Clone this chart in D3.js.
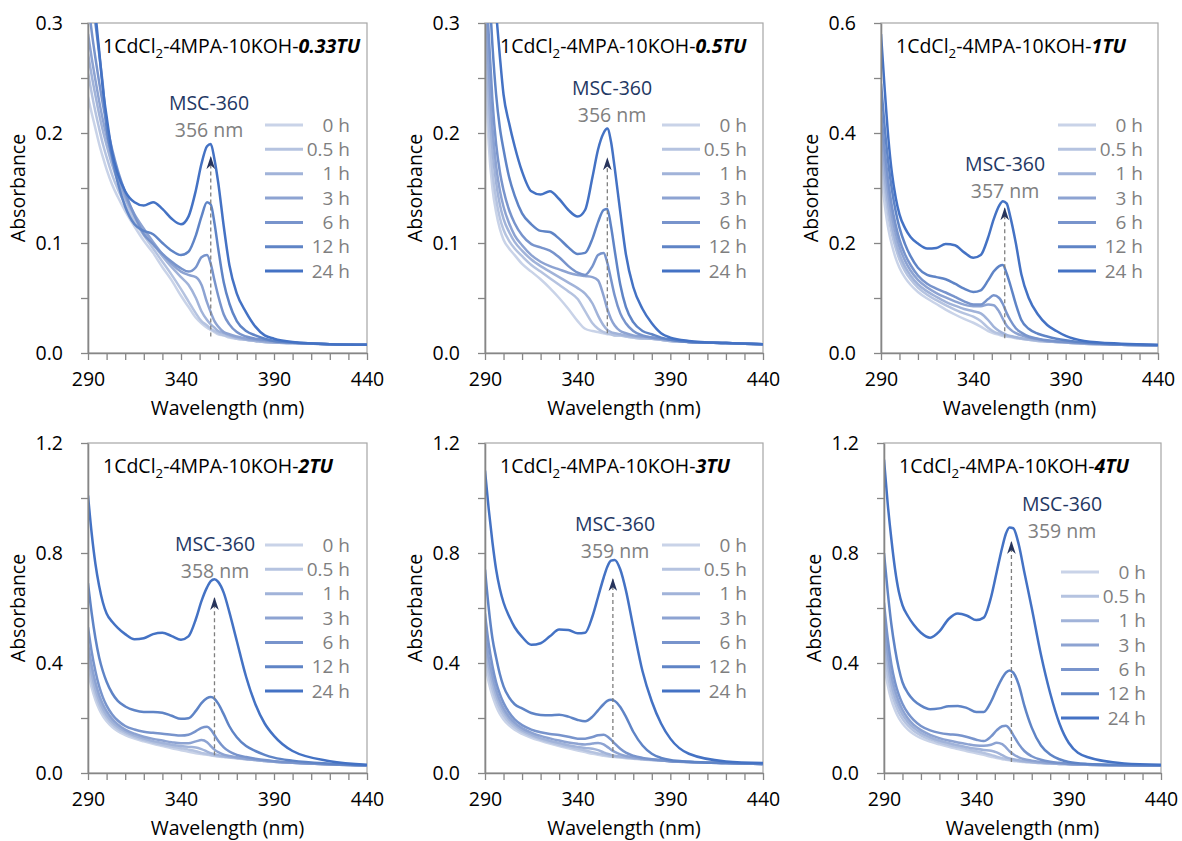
<!DOCTYPE html>
<html>
<head>
<meta charset="utf-8">
<script src="https://cdn.jsdelivr.net/npm/d3@7"></script>
<style>
  html, body { margin: 0; padding: 0; background: #fff; }
  svg { display: block; font-family: "Open Sans", "Noto Sans", sans-serif; }
</style>
</head>
<body>
<svg id="chart" width="1182" height="841"></svg>
<script>
// ---------------- DATA ----------------
const wavelengths = [290,292,294,296,298,300,303,306,310,315,320,325,330,335,340,344,348,351,354,356,358,360,363,366,370,375,380,385,390,400,420,440];
const seriesLabels = ['0 h','0.5 h','1 h','3 h','6 h','12 h','24 h'];
const seriesColors = ['#c9d3e8','#b5c3e0','#a1b3d9','#8da3d2','#7894cc','#5f84c6','#4472c4'];

const panelPrefix = '1CdCl';
const panelMid = '-4MPA-10KOH-';
const panelTU = ['0.33TU','0.5TU','1TU','2TU','3TU','4TU'];
const peakNm = [356,356,357,358,359,359];
const yMax = [0.3,0.3,0.6,1.2,1.2,1.2];
const yTickStep = [0.05,0.05,0.1,0.2,0.2,0.2];
const yLabelStep = [0.1,0.1,0.2,0.4,0.4,0.4];
const arrowFrom = [0.015,0.018,0.027,0.065,0.055,0.04];
const arrowTo = [0.178,0.177,0.263,0.636,0.705,0.84];
const xTicks = [290,300,310,320,330,340,350,360,370,380,390,400,410,420,430,440];
const xLabels = [290,340,390,440];

const abs_033TU = [
  [0.233,0.218,0.204,0.19,0.178,0.167,0.153,0.142,0.129,0.115,0.102,0.091,0.078,0.066,0.052,0.042,0.032,0.027,0.023,0.021,0.019,0.017,0.016,0.014,0.013,0.012,0.011,0.010,0.0095,0.009,0.008,0.0075],
  [0.255,0.236,0.219,0.204,0.19,0.178,0.162,0.149,0.135,0.12,0.107,0.095,0.083,0.071,0.058,0.047,0.036,0.029,0.025,0.022,0.020,0.018,0.016,0.015,0.013,0.012,0.011,0.010,0.0095,0.009,0.008,0.0075],
  [0.272,0.252,0.234,0.217,0.202,0.189,0.171,0.156,0.14,0.124,0.111,0.099,0.088,0.078,0.069,0.062,0.05,0.038,0.03,0.026,0.023,0.02,0.018,0.016,0.014,0.012,0.011,0.010,0.0095,0.009,0.008,0.0075],
  [0.29,0.268,0.248,0.229,0.212,0.197,0.177,0.161,0.143,0.126,0.113,0.101,0.09,0.081,0.074,0.071,0.069,0.062,0.046,0.037,0.029,0.024,0.019,0.017,0.015,0.013,0.012,0.011,0.010,0.009,0.008,0.0075],
  [0.32,0.292,0.268,0.246,0.226,0.208,0.185,0.166,0.146,0.125,0.108,0.099,0.09,0.083,0.077,0.074,0.078,0.087,0.089,0.081,0.066,0.052,0.035,0.026,0.019,0.015,0.013,0.012,0.011,0.0095,0.008,0.0075],
  [0.36,0.33,0.3,0.272,0.243,0.205,0.178,0.155,0.133,0.117,0.111,0.108,0.1,0.093,0.089,0.092,0.107,0.124,0.137,0.135,0.118,0.095,0.064,0.045,0.029,0.02,0.016,0.013,0.011,0.0095,0.008,0.0075],
  [0.4,0.36,0.31,0.275,0.24,0.215,0.182,0.163,0.147,0.137,0.134,0.137,0.131,0.122,0.117,0.124,0.148,0.172,0.188,0.19,0.176,0.155,0.115,0.08,0.054,0.037,0.024,0.016,0.013,0.01,0.008,0.0075]
];
const abs_05TU = [
  [0.27,0.19,0.15,0.128,0.113,0.103,0.095,0.089,0.081,0.074,0.067,0.059,0.05,0.04,0.029,0.022,0.02,0.019,0.018,0.017,0.017,0.016,0.016,0.015,0.014,0.013,0.013,0.012,0.011,0.01,0.009,0.008],
  [0.29,0.21,0.165,0.14,0.123,0.112,0.102,0.095,0.088,0.08,0.074,0.068,0.062,0.056,0.049,0.038,0.027,0.022,0.019,0.018,0.017,0.016,0.016,0.015,0.014,0.013,0.013,0.012,0.011,0.01,0.009,0.008],
  [0.31,0.235,0.185,0.155,0.135,0.122,0.11,0.101,0.093,0.085,0.079,0.074,0.069,0.064,0.059,0.054,0.045,0.034,0.025,0.021,0.019,0.018,0.017,0.016,0.015,0.014,0.013,0.012,0.011,0.01,0.009,0.008],
  [0.33,0.26,0.205,0.17,0.148,0.133,0.118,0.107,0.098,0.089,0.083,0.079,0.076,0.073,0.071,0.07,0.069,0.066,0.052,0.04,0.031,0.025,0.02,0.018,0.016,0.015,0.014,0.013,0.012,0.01,0.009,0.008],
  [0.36,0.29,0.23,0.19,0.165,0.148,0.13,0.118,0.107,0.099,0.096,0.093,0.087,0.079,0.073,0.071,0.079,0.089,0.091,0.082,0.067,0.052,0.036,0.027,0.02,0.016,0.014,0.013,0.012,0.01,0.009,0.008],
  [0.4,0.34,0.28,0.235,0.205,0.185,0.16,0.143,0.127,0.117,0.111,0.11,0.104,0.096,0.09,0.091,0.104,0.119,0.13,0.131,0.115,0.093,0.062,0.042,0.028,0.02,0.017,0.014,0.012,0.01,0.009,0.008],
  [0.45,0.4,0.35,0.31,0.27,0.235,0.209,0.188,0.165,0.147,0.144,0.147,0.14,0.13,0.124,0.13,0.16,0.185,0.2,0.204,0.192,0.168,0.128,0.09,0.06,0.04,0.027,0.018,0.014,0.011,0.009,0.008]
];
const abs_1TU = [
  [0.33,0.27,0.225,0.195,0.172,0.155,0.137,0.124,0.111,0.099,0.089,0.079,0.07,0.062,0.055,0.048,0.04,0.036,0.033,0.031,0.03,0.029,0.027,0.026,0.024,0.022,0.021,0.02,0.019,0.017,0.015,0.014],
  [0.36,0.3,0.25,0.215,0.19,0.17,0.149,0.134,0.119,0.106,0.096,0.087,0.079,0.072,0.066,0.058,0.046,0.039,0.035,0.033,0.031,0.03,0.028,0.026,0.024,0.022,0.021,0.02,0.019,0.017,0.015,0.014],
  [0.38,0.32,0.268,0.23,0.202,0.18,0.157,0.141,0.125,0.112,0.102,0.093,0.086,0.08,0.076,0.072,0.06,0.048,0.04,0.036,0.033,0.031,0.029,0.027,0.025,0.023,0.021,0.02,0.019,0.017,0.015,0.014],
  [0.41,0.345,0.29,0.248,0.217,0.193,0.168,0.15,0.133,0.119,0.109,0.101,0.094,0.088,0.085,0.085,0.088,0.087,0.075,0.062,0.05,0.043,0.036,0.032,0.028,0.025,0.022,0.021,0.02,0.018,0.015,0.014],
  [0.44,0.37,0.31,0.265,0.232,0.206,0.179,0.16,0.141,0.126,0.117,0.11,0.102,0.094,0.088,0.088,0.098,0.105,0.1,0.089,0.073,0.06,0.045,0.037,0.03,0.026,0.023,0.021,0.02,0.018,0.015,0.014],
  [0.49,0.41,0.345,0.295,0.257,0.228,0.198,0.176,0.155,0.142,0.138,0.134,0.126,0.117,0.111,0.114,0.132,0.148,0.158,0.16,0.145,0.124,0.089,0.06,0.044,0.035,0.03,0.026,0.023,0.019,0.016,0.014],
  [0.58,0.48,0.39,0.325,0.282,0.252,0.227,0.211,0.199,0.19,0.191,0.198,0.196,0.183,0.173,0.178,0.21,0.243,0.268,0.276,0.272,0.248,0.2,0.143,0.1,0.07,0.051,0.04,0.031,0.022,0.017,0.015]
];
const abs_2TU = [
  [0.37,0.31,0.265,0.232,0.207,0.188,0.167,0.152,0.138,0.125,0.115,0.106,0.098,0.09,0.083,0.077,0.072,0.069,0.066,0.064,0.062,0.06,0.058,0.056,0.053,0.05,0.047,0.044,0.041,0.037,0.031,0.027],
  [0.40,0.335,0.285,0.248,0.22,0.2,0.177,0.16,0.145,0.131,0.12,0.111,0.103,0.096,0.09,0.085,0.079,0.073,0.069,0.066,0.064,0.062,0.059,0.057,0.054,0.05,0.047,0.044,0.041,0.037,0.031,0.027],
  [0.43,0.36,0.305,0.264,0.234,0.211,0.186,0.168,0.151,0.136,0.125,0.116,0.109,0.103,0.098,0.095,0.093,0.087,0.078,0.072,0.068,0.065,0.061,0.058,0.055,0.051,0.047,0.044,0.041,0.037,0.031,0.027],
  [0.47,0.39,0.33,0.284,0.25,0.225,0.197,0.177,0.158,0.143,0.132,0.124,0.118,0.112,0.108,0.108,0.115,0.12,0.112,0.098,0.085,0.076,0.067,0.062,0.057,0.052,0.048,0.045,0.042,0.037,0.031,0.027],
  [0.53,0.44,0.37,0.315,0.275,0.245,0.213,0.191,0.171,0.158,0.15,0.146,0.143,0.139,0.136,0.139,0.152,0.164,0.168,0.158,0.138,0.117,0.093,0.078,0.066,0.058,0.052,0.047,0.043,0.038,0.032,0.027],
  [0.69,0.58,0.49,0.42,0.37,0.332,0.29,0.262,0.242,0.228,0.222,0.222,0.219,0.208,0.197,0.199,0.226,0.254,0.272,0.276,0.27,0.252,0.213,0.17,0.13,0.098,0.08,0.066,0.056,0.045,0.034,0.028],
  [1.01,0.87,0.76,0.68,0.62,0.58,0.55,0.528,0.505,0.486,0.49,0.505,0.51,0.498,0.485,0.497,0.56,0.625,0.675,0.698,0.705,0.695,0.655,0.585,0.48,0.35,0.25,0.18,0.135,0.08,0.043,0.03]
];
const abs_3TU = [
  [0.40,0.33,0.28,0.243,0.215,0.195,0.173,0.157,0.142,0.128,0.117,0.107,0.098,0.09,0.082,0.076,0.07,0.066,0.063,0.061,0.059,0.058,0.056,0.054,0.052,0.049,0.047,0.045,0.043,0.04,0.036,0.033],
  [0.44,0.36,0.305,0.263,0.232,0.209,0.184,0.166,0.149,0.134,0.122,0.112,0.103,0.095,0.088,0.082,0.076,0.071,0.067,0.064,0.062,0.06,0.058,0.056,0.053,0.05,0.047,0.045,0.043,0.04,0.036,0.033],
  [0.48,0.39,0.33,0.283,0.249,0.223,0.195,0.175,0.156,0.14,0.127,0.117,0.109,0.101,0.095,0.091,0.088,0.083,0.075,0.07,0.066,0.063,0.06,0.057,0.054,0.051,0.048,0.045,0.043,0.04,0.036,0.033],
  [0.52,0.42,0.355,0.303,0.265,0.236,0.205,0.183,0.163,0.147,0.135,0.126,0.118,0.111,0.106,0.104,0.107,0.109,0.104,0.095,0.085,0.077,0.068,0.062,0.057,0.052,0.049,0.046,0.044,0.04,0.036,0.033],
  [0.58,0.47,0.39,0.33,0.288,0.255,0.22,0.195,0.174,0.158,0.148,0.142,0.138,0.132,0.125,0.125,0.131,0.137,0.139,0.133,0.121,0.107,0.088,0.074,0.063,0.055,0.05,0.046,0.043,0.04,0.036,0.033],
  [0.74,0.6,0.49,0.42,0.36,0.315,0.275,0.25,0.235,0.218,0.211,0.21,0.212,0.205,0.193,0.188,0.205,0.228,0.25,0.262,0.266,0.262,0.24,0.205,0.15,0.1,0.07,0.055,0.047,0.041,0.036,0.033],
  [1.10,0.96,0.84,0.74,0.67,0.62,0.57,0.53,0.495,0.466,0.472,0.497,0.522,0.52,0.508,0.51,0.57,0.64,0.71,0.75,0.772,0.775,0.74,0.665,0.53,0.37,0.26,0.18,0.125,0.07,0.042,0.036]
];
const abs_4TU = [
  [0.40,0.32,0.265,0.228,0.2,0.18,0.158,0.142,0.127,0.114,0.104,0.095,0.087,0.079,0.072,0.066,0.059,0.054,0.05,0.048,0.046,0.044,0.042,0.04,0.038,0.036,0.034,0.033,0.032,0.03,0.028,0.027],
  [0.45,0.36,0.295,0.252,0.22,0.197,0.172,0.154,0.137,0.122,0.111,0.102,0.094,0.086,0.079,0.073,0.066,0.059,0.054,0.051,0.048,0.046,0.044,0.041,0.039,0.036,0.034,0.033,0.032,0.03,0.028,0.027],
  [0.5,0.4,0.325,0.275,0.24,0.213,0.185,0.165,0.146,0.13,0.118,0.109,0.101,0.094,0.088,0.084,0.081,0.075,0.065,0.058,0.053,0.05,0.046,0.043,0.04,0.037,0.035,0.033,0.032,0.03,0.028,0.027],
  [0.55,0.44,0.355,0.3,0.26,0.23,0.198,0.176,0.156,0.139,0.127,0.118,0.111,0.105,0.1,0.099,0.103,0.11,0.105,0.093,0.079,0.068,0.057,0.05,0.045,0.04,0.037,0.035,0.033,0.031,0.028,0.027],
  [0.62,0.49,0.395,0.33,0.285,0.252,0.217,0.193,0.171,0.155,0.146,0.141,0.138,0.131,0.121,0.116,0.133,0.155,0.17,0.172,0.16,0.138,0.105,0.08,0.061,0.048,0.041,0.037,0.034,0.031,0.028,0.027],
  [0.8,0.66,0.54,0.45,0.38,0.33,0.29,0.265,0.245,0.232,0.235,0.243,0.244,0.236,0.222,0.222,0.26,0.305,0.345,0.365,0.373,0.365,0.32,0.245,0.165,0.1,0.067,0.05,0.04,0.033,0.029,0.027],
  [1.14,0.98,0.85,0.74,0.66,0.61,0.57,0.54,0.51,0.492,0.515,0.56,0.58,0.572,0.556,0.565,0.64,0.73,0.82,0.87,0.893,0.89,0.83,0.73,0.6,0.43,0.29,0.18,0.11,0.058,0.035,0.03]
];
const panelData = [abs_033TU, abs_05TU, abs_1TU, abs_2TU, abs_3TU, abs_4TU];

// ---------------- LAYOUT ----------------
const plotLeft = [88,485,881,88,485,884];
const plotWidth = [279,278,277,279,278,277];
const plotTop = [23,23,23,443,443,443];
const plotHeight = 330;
const legendTop = [102,102,102,102,102,129];
const annCX = [121,127,124,127,130,178];
const annY1 = [80.5,65.5,141.5,101.5,81.5,61.5];

const FS = 19.5;
const svg = d3.select('#chart');

const defs = svg.append('defs');
defs.append('marker')
  .attr('id','arrowHead')
  .attr('viewBox','0 0 12 8')
  .attr('refX',11).attr('refY',4)
  .attr('markerWidth',13).attr('markerHeight',9)
  .attr('markerUnits','userSpaceOnUse')
  .attr('orient','auto')
  .append('path')
  .attr('d','M0,0 L12,4 L0,8 L3.5,4 Z')
  .attr('fill','#27345c');

panelData.forEach((rows, p) => {
  const L = plotLeft[p], T = plotTop[p], W = plotWidth[p], H = plotHeight;
  const x = d3.scaleLinear().domain([290,440]).range([0,W]);
  const y = d3.scaleLinear().domain([0,yMax[p]]).range([H,0]);
  const g = svg.append('g').attr('transform',`translate(${L},${T})`);

  defs.append('clipPath').attr('id','clip'+p)
    .append('rect').attr('x',0).attr('y',0).attr('width',W).attr('height',H);

  // frame
  g.append('rect').attr('x',0).attr('y',0).attr('width',W).attr('height',H)
    .attr('fill','none').attr('stroke','#a6a6a6').attr('stroke-width',1.2);

  // lines
  const line = d3.line()
    .x((d,i) => x(wavelengths[i]))
    .y(d => y(d))
    .curve(d3.curveMonotoneX);
  const lg = g.append('g').attr('clip-path',`url(#clip${p})`);
  rows.forEach((vals, s) => {
    lg.append('path').datum(vals)
      .attr('d', line)
      .attr('fill','none')
      .attr('stroke', seriesColors[s])
      .attr('stroke-width', 2.5)
      .attr('stroke-linejoin','round');
  });

  // arrow
  g.append('line')
    .attr('x1', x(peakNm[p])).attr('x2', x(peakNm[p]))
    .attr('y1', y(arrowFrom[p])).attr('y2', y(arrowTo[p]))
    .attr('stroke','#7f7f7f').attr('stroke-width',1.3)
    .attr('stroke-dasharray','4,3')
    .attr('marker-end','url(#arrowHead)');

  // axes
  const xAxis = d3.axisBottom(x).tickValues(xTicks).tickSize(7).tickSizeOuter(0)
    .tickFormat(d => xLabels.includes(d) ? d : '');
  const xa = g.append('g').attr('transform',`translate(0,${H})`).call(xAxis);
  const yTicks = d3.range(0, yMax[p] + 1e-9, yTickStep[p]);
  const yAxis = d3.axisLeft(y).tickValues(yTicks).tickSize(7).tickSizeOuter(0)
    .tickFormat(d => (Math.abs(Math.round(d / yLabelStep[p]) * yLabelStep[p] - d) < 1e-9) ? d3.format('.1f')(d) : '');
  const ya = g.append('g').call(yAxis);
  [xa, ya].forEach(a => {
    a.select('.domain').attr('stroke','#868686').attr('stroke-width',1.6);
    a.selectAll('.tick line').attr('stroke','#868686').attr('stroke-width',1.3);
    a.selectAll('.tick text').attr('fill','#000').style('font-size', FS + 'px')
      .style('font-family','"Open Sans", sans-serif');
  });
  xa.selectAll('.tick text').attr('dy','0').attr('y', 33);
  ya.selectAll('.tick text').attr('x', -25).attr('dy','0.35em');

  // axis titles
  g.append('text').attr('x', W/2).attr('y', H + 62)
    .attr('text-anchor','middle').style('font-size', FS + 'px').attr('fill','#000')
    .text('Wavelength (nm)');
  g.append('text').attr('transform',`translate(-70,${H/2}) rotate(-90)`)
    .attr('text-anchor','middle').attr('dy','0.35em').style('font-size', FS + 'px').attr('fill','#000')
    .text('Absorbance');

  // title
  const t = g.append('text').attr('x', 15).attr('y', 30).style('font-size', FS + 'px').attr('fill','#000');
  t.append('tspan').text(panelPrefix);
  t.append('tspan').text('2').style('font-size', (FS*0.68) + 'px').attr('dy', 5);
  t.append('tspan').text(panelMid).attr('dy', -5);
  t.append('tspan').text(panelTU[p]).style('font-weight','bold').style('font-style','italic');

  // annotation
  g.append('text').attr('x', annCX[p]).attr('y', annY1[p]).attr('dy','0.35em')
    .attr('text-anchor','middle').style('font-size', '19.5px').attr('fill','#1f3864')
    .text('MSC-360');
  g.append('text').attr('x', annCX[p]).attr('y', annY1[p] + 26.5).attr('dy','0.35em')
    .attr('text-anchor','middle').style('font-size', '19.5px').attr('fill','#808080')
    .text(peakNm[p] + ' nm');

  // legend
  const leg = g.append('g').attr('transform',`translate(0,${legendTop[p]})`);
  seriesLabels.forEach((lab, s) => {
    const yy = s * 24.35;
    leg.append('line').attr('x1',177).attr('x2',215).attr('y1',yy).attr('y2',yy)
      .attr('stroke', seriesColors[s]).attr('stroke-width',3);
    leg.append('text').attr('x',262).attr('y',yy).attr('dy','0.35em')
      .attr('text-anchor','end').style('font-size', '19px').attr('fill','#7f7f7f')
      .text(lab);
  });
});
</script>
</body>
</html>
